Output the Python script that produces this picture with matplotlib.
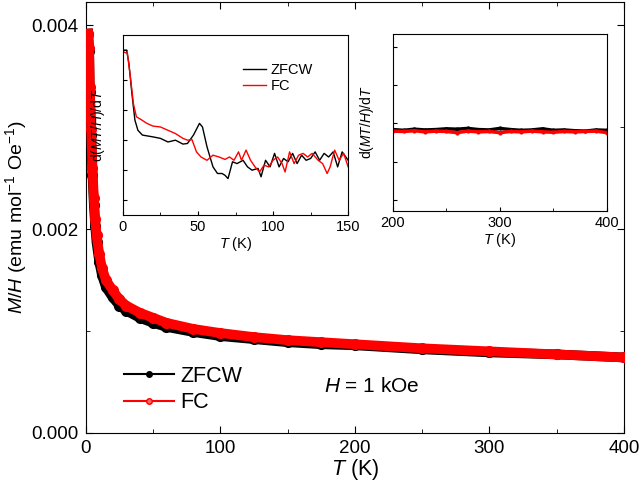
import matplotlib.pyplot as plt
from matplotlib.lines import Line2D
from matplotlib.ticker import MultipleLocator, NullFormatter

plt.rcParams['font.family'] = ['Liberation Sans', 'DejaVu Sans']
plt.rcParams['mathtext.fontset'] = 'custom'
plt.rcParams['mathtext.it'] = 'Liberation Sans:italic'
plt.rcParams['mathtext.rm'] = 'Liberation Sans'

# main panel: M/H vs T
T_main = [1.8, 2.5, 3, 4, 5, 6, 7, 8, 10, 12, 15, 20, 25, 30, 40, 50, 60, 80,
          100, 125, 150, 175, 200, 250, 300, 350, 400]
zfcw_main = [0.00392, 0.00375, 0.00335, 0.00292, 0.00253, 0.00224, 0.00203, 0.00187,
             0.00168, 0.00155, 0.00143, 0.00133, 0.00125, 0.00120, 0.00113, 0.00108,
             0.00104, 0.00099, 0.00095, 0.00092, 0.00089, 0.00087, 0.00086, 0.00082,
             0.00079, 0.00077, 0.00074]
fc_main = [0.00392, 0.00378, 0.00340, 0.00298, 0.00260, 0.00231, 0.00210, 0.00194,
           0.00176, 0.00162, 0.00150, 0.00140, 0.00131, 0.00125, 0.00118, 0.00113,
           0.00108, 0.00102, 0.00098, 0.00094, 0.00091, 0.00089, 0.00087, 0.00083,
           0.00080, 0.00077, 0.00074]

# inset 1: d(MT/H)/dT, 0-150 K (arb. units)
T_in1_z = [0.5, 2.5, 4, 6, 8, 10, 13, 20, 25, 30, 35, 40, 43, 47, 51, 53, 56, 60, 63,
           66, 68, 70, 73, 76, 80, 83, 86, 90, 92, 95, 98, 101, 104, 107, 110, 113,
           116, 119, 122, 125, 128, 131, 134, 137, 140, 143, 146, 150]
zfcw_in1 = [5.5, 5.5, 5.06, 4.06, 3.17, 2.83, 2.67, 2.61, 2.56, 2.44, 2.5, 2.37, 2.39,
            2.67, 3.06, 2.94, 2.28, 1.61, 1.39, 1.39, 1.33, 1.22, 1.78, 1.72, 1.83,
            1.61, 1.5, 1.56, 1.28, 1.83, 1.61, 2.06, 1.61, 1.89, 1.78, 2.06, 1.72,
            2.0, 1.83, 1.89, 2.11, 1.83, 2.06, 1.94, 2.11, 1.61, 2.11, 1.83]
T_in1_f = [0.5, 3, 5, 7, 9, 12, 16, 20, 25, 30, 35, 40, 43, 46, 49, 52, 56, 60, 64,
           68, 71, 74, 77, 79, 82, 85, 88, 91, 94, 97, 100, 103, 106, 108, 111, 114,
           117, 120, 123, 126, 130, 133, 136, 138, 141, 144, 147, 150]
fc_in1 = [5.44, 5.39, 4.61, 3.72, 3.28, 3.19, 3.06, 2.97, 2.94, 2.83, 2.72, 2.56, 2.5,
          2.52, 2.11, 1.94, 1.83, 2.0, 1.94, 1.86, 1.94, 1.83, 2.11, 1.83, 2.17, 1.83,
          1.61, 1.44, 1.67, 1.61, 1.83, 1.94, 1.72, 1.44, 2.11, 1.72, 2.0, 2.06, 1.94,
          2.06, 1.83, 1.72, 1.39, 1.61, 2.17, 1.83, 2.06, 1.61]

# inset 2: d(MT/H)/dT, 200-400 K (arb. units)
T_in2 = [200, 210, 220, 230, 240, 250, 260, 270, 280, 290, 300, 310, 320, 330, 340,
         350, 360, 370, 380, 390, 400]
zfcw_in2 = [1.84, 1.82, 1.85, 1.83, 1.84, 1.86, 1.85, 1.87, 1.84, 1.83, 1.87, 1.84,
            1.82, 1.83, 1.86, 1.82, 1.83, 1.81, 1.80, 1.83, 1.82]
fc_in2 = [1.80, 1.79, 1.81, 1.78, 1.80, 1.79, 1.76, 1.80, 1.78, 1.79, 1.76, 1.79,
          1.78, 1.80, 1.78, 1.77, 1.79, 1.78, 1.79, 1.80, 1.76]

fig = plt.figure(figsize=(6.4, 4.88), dpi=100)
ax = fig.add_axes([0.134, 0.113, 0.841, 0.883])
ax.plot(T_main, zfcw_main, color='black', lw=7, marker='o', ms=7, zorder=2)
ax.plot(T_main, fc_main, color='#ff0000', lw=7, marker='o', ms=7, zorder=3)
ax.set_xlim(0, 400)
ax.set_ylim(0, 0.00423)
ax.xaxis.set_major_locator(MultipleLocator(100))
ax.xaxis.set_minor_locator(MultipleLocator(50))
ax.yaxis.set_major_locator(MultipleLocator(0.002))
ax.yaxis.set_minor_locator(MultipleLocator(0.001))
ax.yaxis.set_major_formatter(plt.FuncFormatter(lambda v, p: f'{v:.3f}'))
ax.tick_params(which='both', direction='in', top=True, right=True, labelsize=13.5)
ax.tick_params(which='major', length=5, pad=5)
ax.tick_params(which='minor', length=3)
ax.set_xlabel('$T$ (K)', fontsize=15.5, labelpad=0)
ax.set_ylabel('$M$/$H$ (emu mol$^{-1}$ Oe$^{-1}$)', fontsize=14, labelpad=2)

handles = [Line2D([], [], color='black', lw=1.5, marker='o', ms=4),
           Line2D([], [], color='#ff0000', lw=1.5, marker='o', ms=4, mfc='#ff6060')]
ax.legend(handles, ['ZFCW', 'FC'], loc='lower left', bbox_to_anchor=(0.055, 0.026),
          frameon=False, fontsize=15.5, handlelength=2.33, handletextpad=0.28,
          labelspacing=0.25, borderaxespad=0)
ax.text(0.532, 0.107, '$H$ = 1 kOe', transform=ax.transAxes, fontsize=15,
        ha='center', va='center')

# inset 1
a1 = fig.add_axes([0.192, 0.559, 0.352, 0.369])
a1.plot(T_in1_z, zfcw_in1, color='black', lw=1)
a1.plot(T_in1_f, fc_in1, color='#ff0000', lw=1)
a1.set_xlim(0, 150)
a1.set_ylim(0, 6)
a1.xaxis.set_major_locator(MultipleLocator(50))
a1.xaxis.set_minor_locator(MultipleLocator(25))
a1.set_yticks([0.5, 1.5, 2.5, 3.5, 4.5, 5.5])
a1.yaxis.set_major_formatter(NullFormatter())
a1.tick_params(which='both', direction='in', labelsize=10.5)
a1.tick_params(which='major', length=3)
a1.tick_params(which='minor', length=2)
a1.set_xlabel('$T$ (K)', fontsize=10.5, labelpad=1)
a1.set_ylabel('d($MT$/$H$)/d$T$', fontsize=10, labelpad=8)
a1.legend(['ZFCW', 'FC'], loc='upper right', bbox_to_anchor=(0.9, 0.92),
          frameon=False, fontsize=10.5, handlelength=1.6, handletextpad=0.3,
          labelspacing=0.15)

# inset 2
a2 = fig.add_axes([0.614, 0.568, 0.334, 0.362])
a2.plot(T_in2, zfcw_in2, color='black', lw=2.5, marker='o', ms=2)
a2.plot(T_in2, fc_in2, color='#ff0000', lw=2.5, marker='o', ms=2)
a2.set_xlim(200, 400)
a2.set_ylim(-0.28, 4.33)
a2.xaxis.set_major_locator(MultipleLocator(100))
a2.xaxis.set_minor_locator(MultipleLocator(50))
a2.set_yticks([0, 1, 2, 3, 4])
a2.yaxis.set_major_formatter(NullFormatter())
a2.tick_params(which='both', direction='in', labelsize=10.5)
a2.tick_params(which='major', length=3)
a2.tick_params(which='minor', length=2)
a2.set_xlabel('$T$ (K)', fontsize=10.5, labelpad=1)
a2.set_ylabel('d($MT$/$H$)/d$T$', fontsize=10, labelpad=9)

fig.savefig('out.png', dpi=100)
